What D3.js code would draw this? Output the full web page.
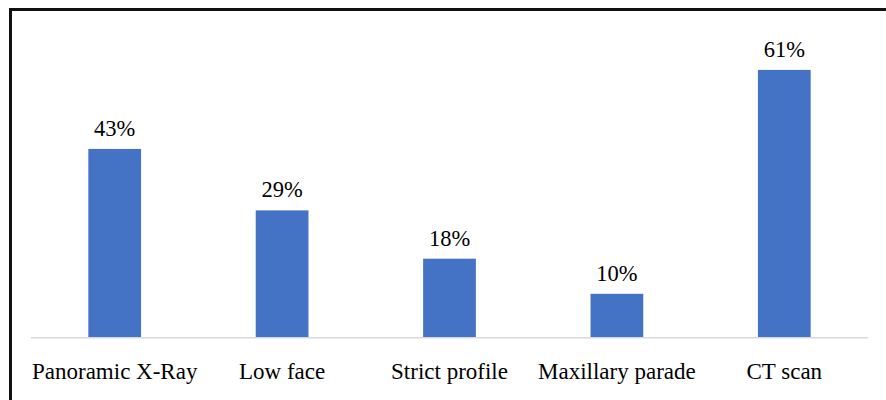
<!DOCTYPE html>
<html>
<head>
<meta charset="utf-8">
<script src="https://cdn.jsdelivr.net/npm/d3@7"></script>
<style>
  html, body { margin: 0; padding: 0; background: #fff; }
  svg { display: block; }
  .lbl { font-family: "Times New Roman", "Liberation Serif", "DejaVu Serif", serif; }
</style>
</head>
<body>
<svg id="chart" width="886" height="400"></svg>
<script>
// Imaging method usage (%)
const categories = ["Panoramic X-Ray", "Low face", "Strict profile", "Maxillary parade", "CT scan"];
const values = [43, 29, 18, 10, 61];

const svg = d3.select("#chart");
const W = 886, H = 400;

// frame around the chart area (open on right/bottom edges)
svg.append("rect")
  .attr("x", 10.5).attr("y", 9.5)
  .attr("width", W + 10).attr("height", H + 10)
  .attr("fill", "#fff")
  .attr("stroke", "#111").attr("stroke-width", 3);

const x = d3.scaleBand()
  .domain(categories)
  .range([31, 868])
  .paddingInner(0.685)
  .paddingOuter(0.3425);

const y = d3.scaleLinear()
  .domain([0, 70])
  .range([337.7, 30.4]);

// bars
svg.append("g").selectAll("rect")
  .data(values)
  .join("rect")
  .attr("x", (d, i) => x(categories[i]))
  .attr("y", d => y(d))
  .attr("width", x.bandwidth())
  .attr("height", d => y(0) - y(d))
  .attr("fill", "#4472C4");

// baseline axis
const xAxis = d3.axisBottom(x).tickSize(0).tickPadding(0);
const gx = svg.append("g")
  .attr("transform", `translate(0,${y(0)})`)
  .call(xAxis)
  .attr("font-family", null)
  .attr("font-size", null);
gx.select(".domain").attr("stroke", "#d9d9d9").attr("stroke-width", 1.5).attr("d", "M31,0H868");
gx.selectAll(".tick text")
  .attr("class", "lbl")
  .attr("dy", null)
  .attr("y", 41.3)
  .style("font-size", "23px")
  .attr("fill", "#000");

// value labels
svg.append("g").selectAll("text")
  .data(values)
  .join("text")
  .attr("class", "lbl")
  .attr("x", (d, i) => x(categories[i]) + x.bandwidth() / 2)
  .attr("y", d => y(d) - 13)
  .attr("text-anchor", "middle")
  .style("font-size", "22.5px")
  .attr("fill", "#000")
  .text(d => d + "%");
</script>
</body>
</html>
